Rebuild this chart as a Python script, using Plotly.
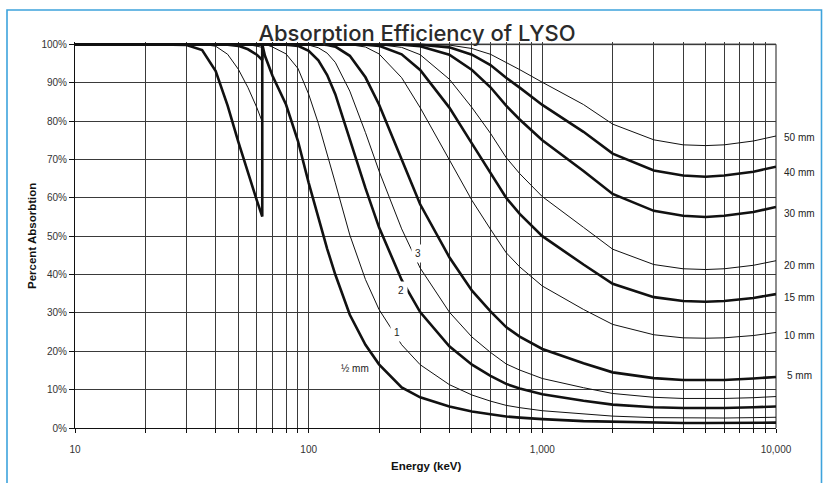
import math
import plotly.graph_objects as go

# ---------------- data ----------------
energy_kev = [10, 20, 30, 35, 40, 45, 50, 55, 60, 63.3,
              63.3, 65, 70, 80, 90, 100, 110, 120, 130, 150, 175, 200, 250, 300,
              400, 500, 600, 700, 800, 1000, 1500, 2000, 3000, 4000, 5000, 6000,
              8000, 10000]

abs_0p5mm = [100, 100, 99.8, 98.5, 93.0, 84.0, 74.6, 66.4, 59.3, 55.1,
             100, 97.0, 91.8, 84.3, 74.8, 63.9, 54.6, 46.7, 40.0, 29.5, 21.7, 16.6, 10.6, 8.0,
             5.6, 4.3, 3.6, 3.0, 2.7, 2.3, 1.8, 1.6, 1.4, 1.3, 1.3, 1.3, 1.4, 1.4]
abs_1mm = [100, 100, 100, 100, 99.5, 97.4, 93.5, 88.7, 83.5, 79.8,
           100, 100, 99.3, 97.5, 93.7, 87.0, 79.4, 71.6, 63.9, 50.3, 38.7, 30.9, 21.7, 16.5,
           11.3, 8.6, 7.0, 5.9, 5.3, 4.5, 3.6, 3.1, 2.7, 2.6, 2.6, 2.6, 2.7, 2.8]
abs_2mm = [100, 100, 100, 100, 100, 99.9, 99.6, 98.7, 97.3, 95.9,
           100, 100, 100, 99.9, 99.6, 98.3, 95.8, 92.0, 87.0, 75.3, 62.5, 52.3, 38.6, 30.2,
           21.3, 16.5, 13.6, 11.5, 10.3, 8.8, 7.1, 6.1, 5.4, 5.2, 5.2, 5.2, 5.4, 5.6]
abs_3mm = [100, 100, 100, 100, 100, 100, 100, 99.9, 99.5, 99.2,
           100, 100, 100, 100, 100, 99.8, 99.1, 97.7, 95.3, 87.8, 77.0, 67.0, 51.9, 41.7,
           30.2, 23.7, 19.7, 16.7, 15.1, 12.9, 10.5, 9.0, 8.0, 7.7, 7.7, 7.7, 7.9, 8.2]
abs_5mm = [100, 100, 100, 100, 100, 100, 100, 100, 100, 100,
           100, 100, 100, 100, 100, 100, 100, 99.8, 99.4, 97.0, 91.4, 84.3, 70.0, 58.3,
           44.5, 35.8, 30.4, 26.3, 23.8, 20.6, 16.9, 14.5, 13.0, 12.5, 12.5, 12.5, 12.9, 13.3]
abs_10mm = [100, 100, 100, 100, 100, 100, 100, 100, 100, 100,
            100, 100, 100, 100, 100, 100, 100, 100, 100, 99.9, 99.3, 97.5, 91.3, 83.5,
            69.9, 59.3, 51.8, 45.7, 42.0, 37.0, 30.9, 27.0, 24.3, 23.5, 23.4, 23.5, 24.1, 24.9]
abs_15mm = [100, 100, 100, 100, 100, 100, 100, 100, 100, 100,
            100, 100, 100, 100, 100, 100, 100, 100, 100, 100, 99.9, 99.6, 97.4, 93.3,
            83.5, 74.1, 66.5, 60.0, 55.8, 50.0, 42.6, 37.6, 34.1, 33.1, 32.9, 33.1, 33.9, 34.9]
abs_20mm = [100, 100, 100, 100, 100, 100, 100, 100, 100, 100,
            100, 100, 100, 100, 100, 100, 100, 100, 100, 100, 100, 99.9, 99.2, 97.3,
            90.9, 83.5, 76.8, 70.5, 66.3, 60.3, 52.3, 46.6, 42.6, 41.5, 41.3, 41.5, 42.4, 43.6]
abs_30mm = [100, 100, 100, 100, 100, 100, 100, 100, 100, 100,
            100, 100, 100, 100, 100, 100, 100, 100, 100, 100, 100, 100, 99.9, 99.5,
            97.3, 93.3, 88.8, 84.0, 80.4, 75.0, 67.0, 61.0, 56.6, 55.3, 55.0, 55.3, 56.3, 57.6]
abs_40mm = [100, 100, 100, 100, 100, 100, 100, 100, 100, 100,
            100, 100, 100, 100, 100, 100, 100, 100, 100, 100, 100, 100, 100, 99.9,
            99.2, 97.3, 94.6, 91.3, 88.7, 84.2, 77.2, 71.5, 67.1, 65.8, 65.5, 65.8, 66.8, 68.1]
abs_50mm = [100, 100, 100, 100, 100, 100, 100, 100, 100, 100,
            100, 100, 100, 100, 100, 100, 100, 100, 100, 100, 100, 100, 100, 100,
            99.8, 98.9, 97.4, 95.3, 93.4, 90.1, 84.3, 79.2, 75.1, 73.8, 73.6, 73.8, 74.8, 76.1]

curve_names = ["½ mm", "1 mm", "2 mm", "3 mm", "5 mm", "10 mm", "15 mm",
               "20 mm", "30 mm", "40 mm", "50 mm"]
curve_values = [abs_0p5mm, abs_1mm, abs_2mm, abs_3mm, abs_5mm, abs_10mm, abs_15mm,
                abs_20mm, abs_30mm, abs_40mm, abs_50mm]
curve_thick = [True, False, True, False, True, False, True, False, True, True, False]

x_tick_vals = [10, 20, 30, 40, 50, 60, 70, 80, 90,
               100, 200, 300, 400, 500, 600, 700, 800, 900,
               1000, 2000, 3000, 4000, 5000, 6000, 7000, 8000, 9000, 10000]
x_tick_text = ["10", "", "", "", "", "", "", "", "",
               "100", "", "", "", "", "", "", "", "",
               "1,000", "", "", "", "", "", "", "", "", "10,000"]

y_tick_vals = [0, 10, 20, 30, 40, 50, 60, 70, 80, 90, 100]
y_tick_text = ["0%", "10%", "20%", "30%", "40%", "50%", "60%", "70%", "80%", "90%", "100%"]

right_labels = ["50 mm", "40 mm", "30 mm", "20 mm", "15 mm", "10 mm", "5 mm"]
right_label_y = [75.8, 66.6, 56.0, 42.3, 34.0, 24.0, 13.8]

inner_labels = ["½ mm", "1", "2", "3"]
inner_label_x = [158, 239, 249, 294]
inner_label_y = [15.6, 25.0, 35.9, 45.6]

# ---------------- figure ----------------
fig = go.Figure()
for name, vals, thick in zip(curve_names, curve_values, curve_thick):
    fig.add_trace(go.Scatter(
        x=energy_kev, y=vals, mode="lines", name=name,
        line=dict(color="#111111", width=2.6 if thick else 1.0),
        showlegend=False, hoverinfo="skip"))

W, H = 827, 483
ML, MR, MT, MB = 75, 51, 42, 55
pw, ph = W - ML - MR, H - MT - MB


def px_to_paper_x(px):
    return (px - ML) / pw


def px_to_paper_y(py):
    return (H - MB - py) / ph


annotations = []
for txt, yv in zip(right_labels, right_label_y):
    annotations.append(dict(
        text=txt, x=px_to_paper_x(799), xref="paper", y=yv, yref="y",
        xanchor="center", yanchor="middle", showarrow=False,
        font=dict(family="Liberation Sans, Arial", size=10, color="#222")))
for txt, xv, yv in zip(inner_labels, inner_label_x, inner_label_y):
    annotations.append(dict(
        text=txt, x=math.log10(xv), xref="x", y=yv, yref="y",
        xanchor="center", yanchor="middle", showarrow=False,
        bgcolor="white" if txt != "½ mm" else "rgba(0,0,0,0)", borderpad=3,
        font=dict(family="Liberation Sans, Arial", size=10, color="#222")))
annotations.append(dict(
    text="<b>Energy (keV)</b>", x=0.5, xref="paper", y=px_to_paper_y(466), yref="paper",
    xanchor="center", yanchor="middle", showarrow=False,
    font=dict(family="Liberation Sans, Arial", size=11.5, color="#111")))
annotations.append(dict(
    text="<b>Percent Absorbtion</b>", x=px_to_paper_x(32), xref="paper", y=px_to_paper_y(236),
    yref="paper", xanchor="center", yanchor="middle", showarrow=False, textangle=-90,
    font=dict(family="Liberation Sans, Arial", size=11.5, color="#111")))

shapes = [
    dict(type="rect", xref="paper", yref="paper",
         x0=px_to_paper_x(7), x1=px_to_paper_x(821.5),
         y0=px_to_paper_y(495), y1=px_to_paper_y(10),
         line=dict(color="#3ea3dc", width=1.6), layer="below"),
    dict(type="line", xref="paper", yref="y", x0=0, x1=1, y0=100, y1=100,
         line=dict(color="#8c8c8c", width=2), layer="between"),
    dict(type="line", xref="paper", yref="y", x0=1, x1=1, y0=0, y1=100,
         line=dict(color="#8c8c8c", width=2), layer="between"),
]

fig.update_layout(
    width=W, height=H,
    margin=dict(l=ML, r=MR, t=MT, b=MB, pad=0, autoexpand=False),
    paper_bgcolor="white", plot_bgcolor="white",
    title=dict(text="Absorption Efficiency of LYSO", x=px_to_paper_x(417), xref="paper",
               xanchor="center", y=1 - 33 / H, yref="container", yanchor="middle",
               font=dict(family="Inter", size=22, color="#2b2b2b", weight=500)),
    annotations=annotations, shapes=shapes,
    xaxis=dict(type="log", range=[1, 4], tickmode="array", tickvals=x_tick_vals,
               ticktext=x_tick_text, ticks="outside", ticklen=4, tickcolor="#111",
               showgrid=True, gridcolor="#3a3a3a", gridwidth=1,
               showline=True, linecolor="#111", linewidth=1, zeroline=False,
               tickfont=dict(family="Liberation Sans, Arial", size=10, color="#333"),
               ticklabelstandoff=8),
    yaxis=dict(range=[0, 100.6], tickmode="array", tickvals=y_tick_vals,
               ticktext=y_tick_text, ticks="outside", ticklen=5, tickcolor="#111",
               showgrid=True, gridcolor="#3a3a3a", gridwidth=1,
               showline=True, linecolor="#111", linewidth=1, zeroline=False,
               tickfont=dict(family="Liberation Sans, Arial", size=10, color="#333")),
)

fig.write_html("out.html", config={"displayModeBar": False},
               post_script="document.body.style.margin='0';document.body.style.overflow='hidden';")
